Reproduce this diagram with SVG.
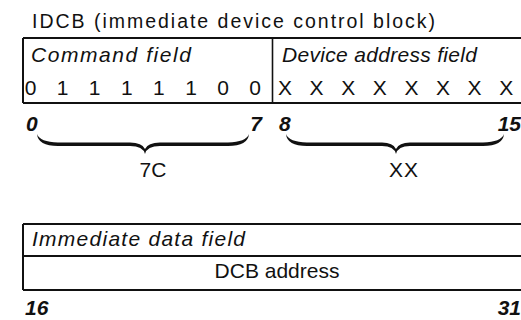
<svg xmlns="http://www.w3.org/2000/svg" width="521" height="320" viewBox="0 0 521 320">
<style>
text{font-family:"Liberation Sans",Arial,sans-serif;fill:#111}
.t{font-size:19.5px}
.f{font-size:21px;font-style:italic}
.d{font-size:21px;text-anchor:middle}
.n{font-size:21px;font-style:italic;font-weight:bold}
.ln{stroke:#111;stroke-width:2;fill:none}
.br{fill:#111}
</style>
<rect width="521" height="320" fill="#fff"/>
<text id="title" class="t" x="32" y="28" textLength="403" lengthAdjust="spacing">IDCB (immediate device control block)</text>
<g id="command-field">
<path class="ln" d="M23,38 H272 M23,38 V103 M23,103 H272"/>
<text class="f" x="31" y="62" textLength="160" lengthAdjust="spacing">Command field</text>
<text class="d" y="95"><tspan x="30.5">0</tspan><tspan x="62.6">1</tspan><tspan x="94.7">1</tspan><tspan x="126.8">1</tspan><tspan x="158.9">1</tspan><tspan x="191">1</tspan><tspan x="223.1">0</tspan><tspan x="255.2">0</tspan></text>
</g>
<g id="device-address-field">
<path class="ln" d="M272,38 H521 M272,103 H521"/>
<path d="M272.5,38 V103" stroke="#111" stroke-width="1.6"/>
<text class="f" x="282" y="62" textLength="195" lengthAdjust="spacing">Device address field</text>
<text class="d" y="95"><tspan x="285">X</tspan><tspan x="316.6">X</tspan><tspan x="348.2">X</tspan><tspan x="379.8">X</tspan><tspan x="411.4">X</tspan><tspan x="443">X</tspan><tspan x="474.6">X</tspan><tspan x="506.2">X</tspan></text>
</g>
<g id="bit-numbers-top">
<text class="n" x="26" y="131">0</text>
<text class="n" x="262" y="131" text-anchor="end">7</text>
<text class="n" x="279" y="131">8</text>
<text class="n" x="521" y="131" text-anchor="end">15</text>
</g>
<g id="connectors">
<path class="br" d="M37,134 Q38,146 58,146 L130,146 Q143,146 145,154 Q147,146 160,146 L228,146 Q248,146 249,134 Q246,142 228,142.5 L160,142.5 Q148,142.5 145,149 Q142,142.5 130,142.5 L58,142.5 Q40,142 37,134 Z"/>
<path class="br" d="M286,134 Q287,146 307,146 L382,146 Q394,146 396,154 Q398,146 410,146 L483,146 Q503,146 504,134 Q501,142 483,142.5 L410,142.5 Q399,142.5 396,149 Q393,142.5 382,142.5 L307,142.5 Q289,142 286,134 Z"/>
</g>
<g id="label-7c"><text class="d" x="153" y="177">7C</text></g>
<g id="label-xx"><text class="d" x="404" y="177" letter-spacing="1">XX</text></g>
<g id="immediate-data-field">
<path class="ln" d="M23,224 H521 M23,224 V290 M23,256 H521 M23,290 H521"/>
<text class="f" x="32" y="246" textLength="213" lengthAdjust="spacing">Immediate data field</text>
<text class="d" x="277" y="278">DCB address</text>
</g>
<g id="bit-numbers-bottom">
<text class="n" x="25" y="315">16</text>
<text class="n" x="521" y="315" text-anchor="end">31</text>
</g>
</svg>
